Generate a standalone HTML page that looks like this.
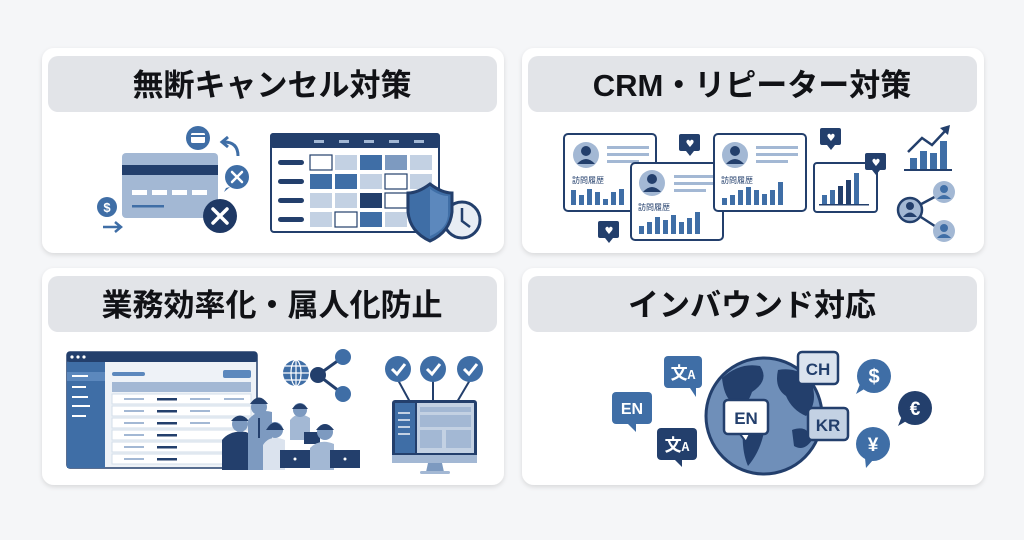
<!DOCTYPE html>
<html><head><meta charset="utf-8"><style>
html,body{margin:0;padding:0;background:#f5f6f8;}
svg{display:block;}
.t{font-family:"Liberation Sans","Noto Sans CJK JP",sans-serif;font-weight:bold;}
</style></head><body>
<svg width="1024" height="540" viewBox="0 0 1024 540" xmlns="http://www.w3.org/2000/svg">
<defs>
<filter id="sh" x="-5%" y="-5%" width="110%" height="115%"><feDropShadow dx="0" dy="2" stdDeviation="2.5" flood-color="#000" flood-opacity="0.12"/></filter>
</defs>
<rect width="1024" height="540" fill="#f5f6f8"/>
<g filter="url(#sh)" fill="#fff">
<rect x="42" y="48" width="462" height="205" rx="12"/>
<rect x="522" y="48" width="462" height="205" rx="12"/>
<rect x="42" y="268" width="462" height="217" rx="12"/>
<rect x="522" y="268" width="462" height="217" rx="12"/>
</g>
<g fill="#e2e4e8">
<rect x="48" y="56" width="449" height="56" rx="10"/>
<rect x="528" y="56" width="449" height="56" rx="10"/>
<rect x="48" y="276" width="449" height="56" rx="10"/>
<rect x="528" y="276" width="449" height="56" rx="10"/>
</g>
<g class="t" font-size="31" fill="#111216" text-anchor="middle">
<text x="272" y="96">無断キャンセル対策</text>
<text x="752" y="96">CRM・リピーター対策</text>
<text x="272" y="316">業務効率化・属人化防止</text>
<text x="752" y="316">インバウンド対応</text>
</g>

<!-- Card1 -->
<rect x="122" y="153" width="96" height="65" rx="4" fill="#a3b8d4"/>
<rect x="122" y="165" width="96" height="10" fill="#233f6c"/>
<g fill="#fff"><rect x="132" y="190" width="15" height="5"/><rect x="152" y="190" width="15" height="5"/><rect x="172" y="190" width="15" height="5"/><rect x="192" y="190" width="15" height="5"/></g>
<rect x="132" y="205" width="32" height="2.5" fill="#3f6ea6"/>
<circle cx="220" cy="216" r="17" fill="#1e3864"/>
<path d="M213 209 L227 223 M227 209 L213 223" stroke="#fff" stroke-width="3.5" stroke-linecap="round"/>
<circle cx="198" cy="138" r="12" fill="#3f6ea6"/>
<rect x="191" y="133" width="14" height="10" rx="1.5" fill="#fff"/><rect x="191" y="135" width="14" height="2" fill="#3f6ea6"/>
<path d="M238 156 Q238 142 224 142" stroke="#3f6ea6" stroke-width="3" fill="none"/>
<path d="M228 137 L222 142 L228 147" stroke="#3f6ea6" stroke-width="3" fill="none"/>
<circle cx="237" cy="177" r="12" fill="#3f6ea6"/><path d="M226 188 L224 192 L230 187Z" fill="#3f6ea6"/>
<path d="M232 172 L242 182 M242 172 L232 182" stroke="#fff" stroke-width="2.5" stroke-linecap="round"/>
<circle cx="107" cy="207" r="10" fill="#3f6ea6"/><text x="107" y="212" class="t" font-size="13" fill="#fff" text-anchor="middle">$</text>
<path d="M103 227 H120 M115 222 L121 227 L115 232" stroke="#3f6ea6" stroke-width="2.5" fill="none"/>
<rect x="271" y="134" width="168" height="98" rx="3" fill="#fff" stroke="#233f6c" stroke-width="2"/>
<rect x="270" y="133" width="170" height="15" rx="3" fill="#233f6c"/>
<g fill="#a3b8d4"><rect x="314" y="140" width="10" height="3"/><rect x="339" y="140" width="10" height="3"/><rect x="364" y="140" width="10" height="3"/><rect x="389" y="140" width="10" height="3"/><rect x="414" y="140" width="10" height="3"/></g>
<g fill="#233f6c"><rect x="278" y="160" width="26" height="5" rx="2.5"/><rect x="278" y="179" width="26" height="5" rx="2.5"/><rect x="278" y="198" width="26" height="5" rx="2.5"/><rect x="278" y="217" width="26" height="5" rx="2.5"/></g>
<g>
<rect x="310" y="155" width="22" height="15" fill="#fff" stroke="#233f6c" stroke-width="1.2"/>
<rect x="335" y="155" width="22" height="15" fill="#c3d1e3"/>
<rect x="360" y="155" width="22" height="15" fill="#3f6ea6"/>
<rect x="385" y="155" width="22" height="15" fill="#7d9ac0"/>
<rect x="410" y="155" width="22" height="15" fill="#c3d1e3"/>
<rect x="310" y="174" width="22" height="15" fill="#3f6ea6"/>
<rect x="335" y="174" width="22" height="15" fill="#3f6ea6"/>
<rect x="360" y="174" width="22" height="15" fill="#c3d1e3"/>
<rect x="385" y="174" width="22" height="15" fill="#fff" stroke="#233f6c" stroke-width="1.2"/>
<rect x="410" y="174" width="22" height="15" fill="#c3d1e3"/>
<rect x="310" y="193" width="22" height="15" fill="#c3d1e3"/>
<rect x="335" y="193" width="22" height="15" fill="#c3d1e3"/>
<rect x="360" y="193" width="22" height="15" fill="#233f6c"/>
<rect x="385" y="193" width="22" height="15" fill="#fff" stroke="#233f6c" stroke-width="1.2"/>
<rect x="310" y="212" width="22" height="15" fill="#c3d1e3"/>
<rect x="335" y="212" width="22" height="15" fill="#fff" stroke="#233f6c" stroke-width="1.2"/>
<rect x="360" y="212" width="22" height="15" fill="#3f6ea6"/>
<rect x="385" y="212" width="22" height="15" fill="#c3d1e3"/>
</g>
<circle cx="462" cy="220" r="18" fill="#e8edf4" stroke="#233f6c" stroke-width="3"/>
<path d="M462 208 V221 L470 227" stroke="#233f6c" stroke-width="2.5" fill="none"/>
<path d="M430 184 Q418 193 408 193 V212 Q410 232 430 241 Q450 232 452 212 V193 Q442 193 430 184Z" fill="#3f6ea6" stroke="#233f6c" stroke-width="3"/>
<path d="M430 189 V236 Q449 228 448 212 V196 Q440 196 430 189Z" fill="#5c88bd"/>

<!-- Card2 -->
<rect x="564" y="134" width="92" height="77" rx="4" fill="#fff" stroke="#233f6c" stroke-width="2"/>
<circle cx="586" cy="155" r="13" fill="#a3b8d4"/><circle cx="586" cy="151" r="5" fill="#233f6c"/><path d="M577 164 Q586 154 595 164Z" fill="#233f6c"/>
<g fill="#a3b8d4"><rect x="607" y="146" width="42" height="3"/><rect x="607" y="153" width="42" height="3"/><rect x="607" y="160" width="32" height="3"/></g>
<text x="572" y="183" font-family="'Noto Sans CJK JP',sans-serif" font-size="8" fill="#233f6c">訪問履歴</text>
<g fill="#3f6ea6"><rect x="571" y="190" width="5" height="15"/><rect x="579" y="195" width="5" height="10"/><rect x="587" y="189" width="5" height="16"/><rect x="595" y="192" width="5" height="13"/><rect x="603" y="199" width="5" height="6"/><rect x="611" y="192" width="5" height="13"/><rect x="619" y="189" width="5" height="16"/></g>
<rect x="631" y="163" width="92" height="77" rx="4" fill="#fff" stroke="#233f6c" stroke-width="2"/>
<circle cx="652" cy="183" r="13" fill="#a3b8d4"/><circle cx="652" cy="179" r="5" fill="#233f6c"/><path d="M643 192 Q652 182 661 192Z" fill="#233f6c"/>
<g fill="#a3b8d4"><rect x="674" y="175" width="42" height="3"/><rect x="674" y="182" width="42" height="3"/><rect x="674" y="189" width="32" height="3"/></g>
<text x="638" y="210" font-family="'Noto Sans CJK JP',sans-serif" font-size="8" fill="#233f6c">訪問履歴</text>
<g fill="#3f6ea6"><rect x="639" y="226" width="5" height="8"/><rect x="647" y="222" width="5" height="12"/><rect x="655" y="217" width="5" height="17"/><rect x="663" y="220" width="5" height="14"/><rect x="671" y="215" width="5" height="19"/><rect x="679" y="222" width="5" height="12"/><rect x="687" y="218" width="5" height="16"/><rect x="695" y="212" width="5" height="22"/></g>
<rect x="714" y="134" width="92" height="77" rx="4" fill="#fff" stroke="#233f6c" stroke-width="2"/>
<circle cx="735" cy="155" r="13" fill="#a3b8d4"/><circle cx="735" cy="151" r="5" fill="#233f6c"/><path d="M726 164 Q735 154 744 164Z" fill="#233f6c"/>
<g fill="#a3b8d4"><rect x="756" y="146" width="42" height="3"/><rect x="756" y="153" width="42" height="3"/><rect x="756" y="160" width="32" height="3"/></g>
<text x="721" y="183" font-family="'Noto Sans CJK JP',sans-serif" font-size="8" fill="#233f6c">訪問履歴</text>
<g fill="#3f6ea6"><rect x="722" y="198" width="5" height="7"/><rect x="730" y="195" width="5" height="10"/><rect x="738" y="190" width="5" height="15"/><rect x="746" y="187" width="5" height="18"/><rect x="754" y="190" width="5" height="15"/><rect x="762" y="194" width="5" height="11"/><rect x="770" y="190" width="5" height="15"/><rect x="778" y="182" width="5" height="23"/></g>
<rect x="814" y="163" width="63" height="49" rx="3" fill="#fff" stroke="#233f6c" stroke-width="2"/>
<g><rect x="822" y="195" width="5" height="9" fill="#3f6ea6"/><rect x="830" y="190" width="5" height="14" fill="#3f6ea6"/><rect x="838" y="186" width="5" height="18" fill="#233f6c"/><rect x="846" y="180" width="5" height="24" fill="#233f6c"/><rect x="854" y="173" width="5" height="31" fill="#3f6ea6"/><rect x="819" y="204" width="50" height="1.5" fill="#233f6c"/></g>
<g fill="#233f6c">
<rect x="679" y="134" width="21" height="17" rx="2"/><path d="M686 151 L690 156 L694 151Z"/>
<rect x="820" y="128" width="21" height="17" rx="2"/><path d="M827 145 L831 150 L835 145Z"/>
<rect x="865" y="153" width="21" height="17" rx="2"/><path d="M872 170 L876 175 L880 170Z"/>
<rect x="598" y="221" width="21" height="17" rx="2"/><path d="M605 238 L609 243 L613 238Z"/>
</g>
<g fill="#fff" font-size="10" font-family="'DejaVu Sans',sans-serif" text-anchor="middle">
<text x="690" y="147">♥</text><text x="831" y="141">♥</text><text x="876" y="166">♥</text><text x="609" y="234">♥</text>
</g>
<g fill="#3f6ea6"><rect x="910" y="158" width="7" height="11"/><rect x="920" y="151" width="7" height="18"/><rect x="930" y="153" width="7" height="16"/><rect x="940" y="141" width="7" height="28"/></g>
<rect x="904" y="169" width="48" height="2" fill="#233f6c"/>
<path d="M908 152 L922 138 L932 145 L946 130" stroke="#233f6c" stroke-width="2.5" fill="none"/>
<path d="M940 128 L950 125 L948 135Z" fill="#233f6c"/>
<path d="M910 210 L944 192 M910 210 L944 232" stroke="#233f6c" stroke-width="2.5"/>
<circle cx="910" cy="210" r="12" fill="#a3b8d4" stroke="#233f6c" stroke-width="2.5"/>
<circle cx="910" cy="206" r="4" fill="#233f6c"/><path d="M903 217 Q910 208 917 217Z" fill="#233f6c"/>
<circle cx="944" cy="192" r="11" fill="#a3b8d4"/><circle cx="944" cy="189" r="4" fill="#3f6ea6"/><path d="M937 199 Q944 191 951 199Z" fill="#3f6ea6"/>
<circle cx="944" cy="231" r="11" fill="#a3b8d4"/><circle cx="944" cy="228" r="4" fill="#3f6ea6"/><path d="M937 238 Q944 230 951 238Z" fill="#3f6ea6"/>

<!-- Card3 -->
<rect x="67" y="352" width="190" height="116" rx="3" fill="#eef2f7" stroke="#233f6c" stroke-width="1.5"/>
<rect x="67" y="352" width="190" height="10" rx="2" fill="#233f6c"/>
<g fill="#fff"><circle cx="72" cy="357" r="1.6"/><circle cx="78" cy="357" r="1.6"/><circle cx="84" cy="357" r="1.6"/></g>
<rect x="67" y="362" width="38" height="106" fill="#3f6ea6"/>
<rect x="67" y="372" width="38" height="9" fill="#5c88bd"/>
<g fill="#fff"><rect x="72" y="375" width="16" height="2"/><rect x="72" y="386" width="14" height="2"/><rect x="72" y="396" width="16" height="2"/><rect x="72" y="405" width="18" height="2"/><rect x="72" y="415" width="14" height="2"/></g>
<rect x="112" y="372" width="33" height="4" rx="2" fill="#5c88bd"/>
<rect x="223" y="370" width="28" height="8" rx="2" fill="#5c88bd"/>
<rect x="112" y="382" width="139" height="10" fill="#a3b8d4"/>
<g fill="#fff" stroke="#d3deea">
<rect x="112" y="394" width="139" height="10"/><rect x="112" y="406" width="139" height="10"/><rect x="112" y="418" width="139" height="10"/><rect x="112" y="430" width="139" height="10"/><rect x="112" y="442" width="139" height="10"/><rect x="112" y="454" width="139" height="10"/>
</g>
<g fill="#a3b8d4">
<rect x="124" y="398" width="20" height="2"/><rect x="190" y="398" width="20" height="2"/><rect x="224" y="398" width="20" height="2"/>
<rect x="124" y="410" width="20" height="2"/><rect x="190" y="410" width="20" height="2"/>
<rect x="124" y="422" width="20" height="2"/><rect x="190" y="422" width="20" height="2"/>
<rect x="124" y="434" width="20" height="2"/><rect x="124" y="446" width="20" height="2"/><rect x="124" y="458" width="20" height="2"/>
</g>
<g fill="#233f6c"><rect x="157" y="398" width="20" height="2.5"/><rect x="157" y="410" width="20" height="2.5"/><rect x="157" y="422" width="20" height="2.5"/><rect x="157" y="434" width="20" height="2.5"/><rect x="157" y="446" width="20" height="2.5"/><rect x="157" y="458" width="20" height="2.5"/></g>
<g>
<path d="M222 470 V440 Q230 430 246 432 Q256 436 258 445 V470Z" fill="#233f6c"/>
<circle cx="240" cy="424" r="8" fill="#7d9ac0"/><path d="M231 421 Q240 410 249 421Z" fill="#233f6c"/>
<path d="M248 470 V420 Q258 408 272 412 V470Z" fill="#7d9ac0"/>
<circle cx="259" cy="407" r="8" fill="#7d9ac0"/><path d="M250 404 Q259 391 268 404Z" fill="#233f6c"/>
<rect x="258" y="418" width="2" height="20" fill="#233f6c"/>
<path d="M263 470 V445 Q270 434 285 440 V470Z" fill="#dbe3ee"/>
<circle cx="275" cy="430" r="8" fill="#7d9ac0"/><path d="M266 430 Q275 415 284 430Z" fill="#233f6c"/>
<path d="M290 440 V420 Q298 410 310 418 V440Z" fill="#a3b8d4"/>
<circle cx="300" cy="410" r="7" fill="#7d9ac0"/><path d="M292 409 Q300 398 308 409Z" fill="#233f6c"/>
<rect x="304" y="432" width="16" height="12" fill="#233f6c"/>
<path d="M310 470 V448 Q320 438 334 444 V470Z" fill="#a3b8d4"/>
<circle cx="325" cy="432" r="8" fill="#7d9ac0"/><path d="M316 430 Q325 418 334 430Z" fill="#233f6c"/>
<rect x="280" y="450" width="30" height="18" fill="#233f6c"/><rect x="330" y="450" width="30" height="18" fill="#233f6c"/>
<circle cx="295" cy="459" r="1.5" fill="#fff"/><circle cx="345" cy="459" r="1.5" fill="#fff"/>
</g>
<circle cx="296" cy="373" r="13" fill="#3f6ea6"/>
<g stroke="#fff" stroke-width="1.2" fill="none"><ellipse cx="296" cy="373" rx="5" ry="13"/><path d="M283 373 H309 M285 366 H307 M285 380 H307 M296 360 V386"/></g>
<path d="M343 357 L318 375 L343 394" stroke="#233f6c" stroke-width="3" fill="none"/>
<circle cx="343" cy="357" r="8" fill="#3f6ea6"/><circle cx="318" cy="375" r="8" fill="#233f6c"/><circle cx="343" cy="394" r="8" fill="#3f6ea6"/>
<path d="M398 380 L410 402 M433 380 V402 M470 380 L457 402" stroke="#233f6c" stroke-width="2"/>
<g fill="#3f6ea6"><circle cx="398" cy="369" r="13"/><circle cx="433" cy="369" r="13"/><circle cx="470" cy="369" r="13"/></g>
<g stroke="#fff" stroke-width="3" fill="none"><path d="M392 369 L397 374 L405 364"/><path d="M427 369 L432 374 L440 364"/><path d="M464 369 L469 374 L477 364"/></g>
<rect x="392" y="400" width="85" height="62" rx="3" fill="#233f6c"/>
<rect x="392" y="455" width="85" height="8" fill="#a3b8d4"/>
<rect x="395" y="403" width="20" height="50" fill="#3f6ea6"/>
<g fill="#c3d1e3"><rect x="398" y="412" width="12" height="2"/><rect x="398" y="419" width="12" height="2"/><rect x="398" y="426" width="12" height="2"/><rect x="398" y="433" width="12" height="2"/></g>
<rect x="417" y="403" width="57" height="50" fill="#c3d1e3"/>
<rect x="420" y="407" width="51" height="5" fill="#a3b8d4"/><rect x="420" y="415" width="51" height="12" fill="#a3b8d4"/>
<rect x="420" y="430" width="22" height="18" fill="#a3b8d4"/><rect x="446" y="430" width="25" height="18" fill="#a3b8d4"/>
<path d="M428 463 L426 472 H444 L442 463Z" fill="#7d9ac0"/><rect x="420" y="471" width="30" height="3" rx="1.5" fill="#a3b8d4"/>

<!-- Card4 -->
<circle cx="764" cy="416" r="58" fill="#6f8fb9" stroke="#233f6c" stroke-width="3"/>
<path d="M722 378 Q740 362 760 366 Q770 380 752 392 Q746 410 734 404 Q724 398 722 378Z" fill="#233f6c"/>
<path d="M744 418 Q760 414 764 432 Q760 452 748 466 Q740 448 744 418Z" fill="#233f6c"/>
<path d="M778 370 Q800 366 812 384 Q818 404 806 416 Q792 410 786 396 Q774 388 778 370Z" fill="#233f6c"/>
<path d="M792 430 Q808 424 812 440 Q804 452 794 446Z" fill="#233f6c"/>
<g class="t" text-anchor="middle">
<rect x="664" y="356" width="38" height="32" rx="4" fill="#3f6ea6"/><path d="M690 388 L696 397 L696 388Z" fill="#3f6ea6"/>
<text x="683" y="379" font-size="17" fill="#fff" font-family="'Noto Sans CJK JP',sans-serif">文<tspan font-size="12">A</tspan></text>
<rect x="612" y="392" width="40" height="32" rx="4" fill="#3f6ea6"/><path d="M628 424 L636 432 L636 424Z" fill="#3f6ea6"/>
<text x="632" y="414" font-size="16" fill="#fff">EN</text>
<rect x="657" y="428" width="40" height="32" rx="4" fill="#233f6c"/><path d="M675 460 L682 467 L682 460Z" fill="#233f6c"/>
<text x="677" y="451" font-size="17" fill="#fff" font-family="'Noto Sans CJK JP',sans-serif">文<tspan font-size="12">A</tspan></text>
<rect x="798" y="352" width="40" height="32" rx="4" fill="#dbe3ee" stroke="#233f6c" stroke-width="2.5"/>
<text x="818" y="375" font-size="17" fill="#233f6c">CH</text>
<rect x="724" y="400" width="44" height="34" rx="4" fill="#fff" stroke="#233f6c" stroke-width="2.5"/><path d="M740 434 L746 442 L750 434Z" fill="#fff" stroke="#233f6c" stroke-width="2"/>
<text x="746" y="424" font-size="17" fill="#233f6c">EN</text>
<rect x="808" y="408" width="40" height="32" rx="4" fill="#c3d1e3" stroke="#233f6c" stroke-width="2.5"/>
<text x="828" y="431" font-size="17" fill="#233f6c">KR</text>
<circle cx="874" cy="376" r="17" fill="#3f6ea6"/><path d="M860 384 L856 394 L866 388Z" fill="#3f6ea6"/>
<text x="874" y="383" font-size="20" fill="#fff">$</text>
<circle cx="915" cy="408" r="17" fill="#233f6c"/><path d="M902 416 L898 426 L908 420Z" fill="#233f6c"/>
<text x="915" y="415" font-size="19" fill="#fff">€</text>
<circle cx="873" cy="444" r="17" fill="#3f6ea6"/><path d="M865 458 L866 468 L873 460Z" fill="#3f6ea6"/>
<text x="873" y="451" font-size="19" fill="#fff">¥</text>
</g>
</svg>
</body></html>
